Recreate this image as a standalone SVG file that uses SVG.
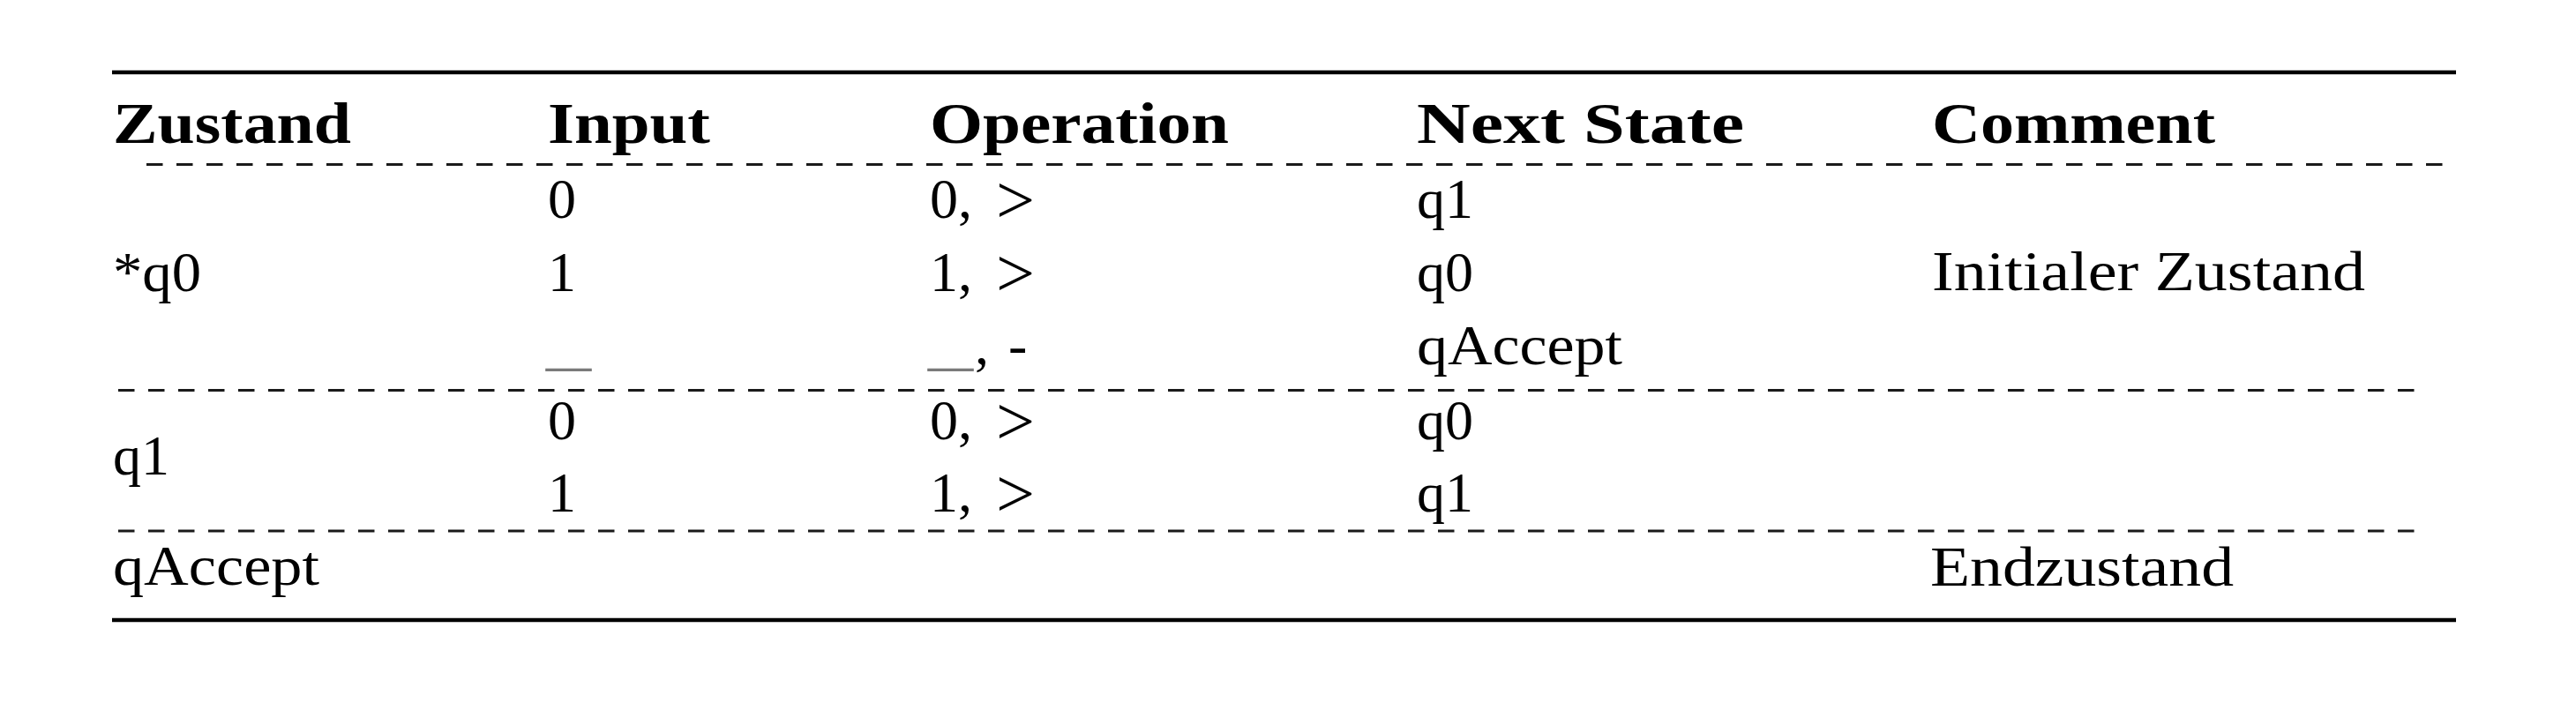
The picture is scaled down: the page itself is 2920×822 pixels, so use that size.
<svg xmlns="http://www.w3.org/2000/svg" width="2920" height="822" viewBox="0 0 2920 822">
<style>
text{font-family:"Liberation Serif","Times New Roman",serif;font-size:64px;fill:#000}
.h{font-weight:bold;font-size:66px}
.gt{font-size:78px}
.rule{stroke:#000;stroke-width:4.6;fill:none}
.dash{stroke:#1a1a1a;stroke-width:3;stroke-dasharray:18.5 15.5;fill:none}
.u{fill:#7a7a7a}
</style>
<rect x="0" y="0" width="2920" height="822" fill="#fff"/>
<g id="rules">
<line class="rule" x1="127" y1="82" x2="2784" y2="82"/>
<line class="dash" x1="166" y1="186.5" x2="2770" y2="186.5"/>
<line class="dash" x1="134" y1="442.5" x2="2739" y2="442.5"/>
<line class="dash" x1="134" y1="602" x2="2739" y2="602"/>
<line class="rule" x1="127" y1="703" x2="2784" y2="703"/>
</g>
<g id="header">
<text class="h" x="128" y="162" textLength="270" lengthAdjust="spacingAndGlyphs">Zustand</text>
<text class="h" x="621" y="162" textLength="184" lengthAdjust="spacingAndGlyphs">Input</text>
<text class="h" x="1054" y="162" textLength="339" lengthAdjust="spacingAndGlyphs">Operation</text>
<text class="h" x="1606" y="162" textLength="371" lengthAdjust="spacingAndGlyphs">Next State</text>
<text class="h" x="2190" y="162" textLength="321" lengthAdjust="spacingAndGlyphs">Comment</text>
</g>
<g id="state-q0">
<text x="128" y="330" textLength="100" lengthAdjust="spacingAndGlyphs">*q0</text>
<text x="621" y="247">0</text>
<text x="1054" y="247"><tspan>0,</tspan><tspan class="gt" x="1129" y="253">&gt;</tspan></text>
<text x="1606" y="247">q1</text>
<text x="621" y="330">1</text>
<text x="1054" y="330"><tspan>1,</tspan><tspan class="gt" x="1129" y="336">&gt;</tspan></text>
<text x="1606" y="330">q0</text>
<text x="2190" y="329" textLength="491" lengthAdjust="spacingAndGlyphs">Initialer Zustand</text>
<text class="u" x="619" y="413" textLength="51" lengthAdjust="spacingAndGlyphs">_</text>
<text class="u" x="1052" y="413" textLength="51" lengthAdjust="spacingAndGlyphs">_</text>
<text x="1105" y="413"><tspan>,</tspan><tspan x="1143">-</tspan></text>
<text x="1606" y="413" textLength="233" lengthAdjust="spacingAndGlyphs">qAccept</text>
</g>
<g id="state-q1">
<text x="128" y="538">q1</text>
<text x="621" y="498">0</text>
<text x="1054" y="498"><tspan>0,</tspan><tspan class="gt" x="1129" y="504">&gt;</tspan></text>
<text x="1606" y="498">q0</text>
<text x="621" y="580">1</text>
<text x="1054" y="580"><tspan>1,</tspan><tspan class="gt" x="1129" y="586">&gt;</tspan></text>
<text x="1606" y="580">q1</text>
</g>
<g id="state-qAccept">
<text x="128" y="663" textLength="234" lengthAdjust="spacingAndGlyphs">qAccept</text>
<text x="2188" y="664" textLength="344" lengthAdjust="spacingAndGlyphs">Endzustand</text>
</g>
</svg>
